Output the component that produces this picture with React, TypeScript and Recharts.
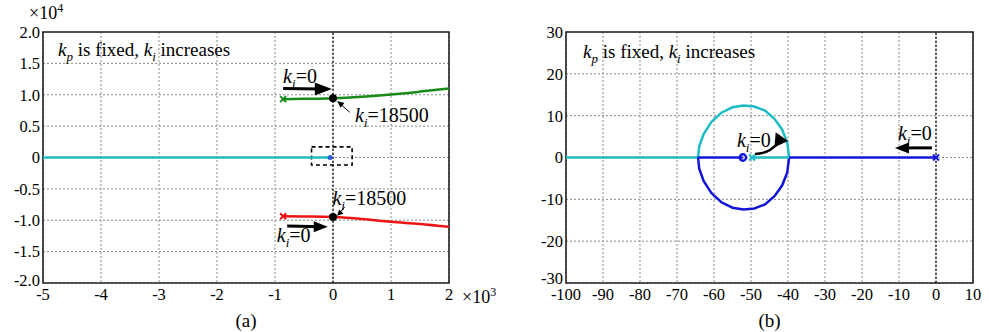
import React from "react";
import {
  ComposedChart,
  Line,
  Scatter,
  XAxis,
  YAxis,
  CartesianGrid,
  ReferenceLine,
  ReferenceArea,
  ReferenceDot,
} from "recharts";

const FONT = "Liberation Serif, DejaVu Serif, serif";
const CYAN = "#1cbcc4";
const BLUE = "#1414d8";
const GREEN = "#188a18";
const RED = "#ee1414";

// ---- panel (a): x in 1e3, y in 1e4
const aXTicks = [-5, -4, -3, -2, -1, 0, 1, 2];
const aYTicks = [-2, -1.5, -1, -0.5, 0, 0.5, 1, 1.5, 2];
const aCyan = [
  { x: -5, y: 0 },
  { x: -0.05, y: 0 },
];
const aGreen = [
  { x: -0.86, y: 0.93 },
  { x: -0.5, y: 0.935 },
  { x: 0, y: 0.945 },
  { x: 0.5, y: 0.97 },
  { x: 1, y: 1.005 },
  { x: 1.5, y: 1.05 },
  { x: 2, y: 1.1 },
];
const aRed = [
  { x: -0.86, y: -0.935 },
  { x: -0.5, y: -0.94 },
  { x: 0, y: -0.95 },
  { x: 0.5, y: -0.98 },
  { x: 1, y: -1.025 },
  { x: 1.5, y: -1.06 },
  { x: 2, y: -1.105 },
];
const aGreenPole = [{ x: -0.86, y: 0.93 }];
const aRedPole = [{ x: -0.86, y: -0.935 }];
const aOrigin = [{ x: -0.05, y: 0 }];
const aCross = [
  { x: 0, y: 0.945 },
  { x: 0, y: -0.95 },
];

// ---- panel (b)
const bXTicks = [-100, -90, -80, -70, -60, -50, -40, -30, -20, -10, 0, 10];
const bYTicks = [-30, -20, -10, 0, 10, 20, 30];
const bCyanReal = [
  { x: -100, y: 0 },
  { x: -64.3, y: 0 },
];
const bCyanSeg = [
  { x: -49.7, y: 0 },
  { x: -39.7, y: 0 },
];
const bCyanArc = [
  { x: -39.7, y: 0 },
  { x: -40.2, y: 3.6 },
  { x: -41.6, y: 6.7 },
  { x: -43.6, y: 9.2 },
  { x: -46.2, y: 11.2 },
  { x: -49.1, y: 12.2 },
  { x: -52, y: 12.4 },
  { x: -55, y: 12.0 },
  { x: -58, y: 10.7 },
  { x: -60.7, y: 8.5 },
  { x: -62.8, y: 5.6 },
  { x: -64, y: 2.7 },
  { x: -64.3, y: 0 },
];
const bBlueReal = [
  { x: 0, y: 0 },
  { x: -39.7, y: 0 },
];
const bBlueArc = [
  { x: -39.7, y: 0 },
  { x: -40.2, y: -3.6 },
  { x: -41.6, y: -6.7 },
  { x: -43.6, y: -9.2 },
  { x: -46.2, y: -11.2 },
  { x: -49.1, y: -12.2 },
  { x: -52, y: -12.4 },
  { x: -55, y: -12.0 },
  { x: -58, y: -10.7 },
  { x: -60.7, y: -8.5 },
  { x: -62.8, y: -5.6 },
  { x: -64, y: -2.7 },
  { x: -64.3, y: 0 },
];
const bBlueSeg = [
  { x: -64.3, y: 0 },
  { x: -52.2, y: 0 },
];
const bBluePole = [{ x: 0, y: 0 }];
const bCyanPole = [{ x: -49.7, y: 0 }];
const bZero = [{ x: -52.2, y: 0 }];
const bCurvedArrow = [
  { x: -48.9, y: 0.85 },
  { x: -46.8, y: 1.1 },
  { x: -44.9, y: 1.8 },
  { x: -43.2, y: 3.0 },
];

const XMark = (color: string) => (p: any) => (
  <g stroke={color} strokeWidth={2}>
    <line x1={p.cx - 3} y1={p.cy - 3} x2={p.cx + 3} y2={p.cy + 3} />
    <line x1={p.cx - 3} y1={p.cy + 3} x2={p.cx + 3} y2={p.cy - 3} />
  </g>
);

const Head = (angle: number, len: number, half: number) => (p: any) => {
  const a = (angle * Math.PI) / 180;
  const bx = p.cx - len * Math.cos(a);
  const by = p.cy - len * Math.sin(a);
  const nx = -Math.sin(a) * half;
  const ny = Math.cos(a) * half;
  return (
    <polygon
      points={`${p.cx},${p.cy} ${bx + nx},${by + ny} ${bx - nx},${by - ny}`}
      fill="#000"
    />
  );
};

const KiLabel = (value: string) => (p: any) => (
  <text x={p.cx} y={p.cy} fontFamily={FONT} fontSize={20} fill="#000">
    <tspan fontStyle="italic">k</tspan>
    <tspan fontStyle="italic" fontSize={13} dy={5}>i</tspan>
    <tspan dy={-5}>={value}</tspan>
  </text>
);

const Title = (p: any) => (
  <text x={p.cx} y={p.cy} fontFamily={FONT} fontSize={19} fill="#000">
    <tspan fontStyle="italic">k</tspan>
    <tspan fontStyle="italic" fontSize={13} dy={5}>p</tspan>
    <tspan dy={-5}> is fixed, </tspan>
    <tspan fontStyle="italic">k</tspan>
    <tspan fontStyle="italic" fontSize={13} dy={5}>i</tspan>
    <tspan dy={-5}> increases</tspan>
  </text>
);

const tickStyle = { fontSize: 16.5, fill: "#000", fontFamily: FONT };

// y tick: the lowest label sits a little above its grid line, as in the source figure
const YTick = (min: number, lift: number, fmt: (v: number) => string) => (p: any) => (
  <text
    x={p.x}
    y={p.y + (p.payload.value === min ? -lift : 0)}
    dy="0.355em"
    textAnchor="end"
    fontFamily={FONT}
    fontSize={16.5}
    fill="#000"
  >
    {fmt(p.payload.value)}
  </text>
);

function PanelA() {
  return (
    <ComposedChart width={500} height={332} margin={{ top: 32, right: 51, bottom: 0, left: 0 }} style={{ fontFamily: FONT }}>
      <CartesianGrid stroke="#8c8c8c" strokeDasharray="2 2" />
      <XAxis
        type="number"
        dataKey="x"
        domain={[-5, 2]}
        ticks={aXTicks}
        interval={0}
        allowDataOverflow
        height={49}
        tickLine={false}
        axisLine={false}
        tickSize={0}
        tickMargin={5}
        tick={tickStyle}
        label={{ value: "(a)", position: "insideBottom", offset: 5, fontSize: 19, fill: "#000", fontFamily: FONT }}
      />
      <YAxis
        type="number"
        dataKey="y"
        domain={[-2, 2]}
        ticks={aYTicks}
        interval={0}
        allowDataOverflow
        width={43}
        tickLine={false}
        axisLine={false}
        tickSize={0}
        tickMargin={3}
        tick={YTick(-2, 3, (v) => (v === 0 ? "0" : v.toFixed(1)))}
      />
      <ReferenceLine x={0} stroke="#000" strokeDasharray="2 2" strokeWidth={1.2} />
      <ReferenceArea x1={-0.37} x2={0.33} y1={-0.12} y2={0.17} fill="none" stroke="#000" strokeWidth={1.6} strokeDasharray="4 3" />
      <Line data={aCyan} dataKey="y" stroke={CYAN} strokeWidth={2.5} dot={false} isAnimationActive={false} />
      <Line data={aGreen} dataKey="y" type="monotone" stroke={GREEN} strokeWidth={2.5} dot={false} isAnimationActive={false} />
      <Line data={aRed} dataKey="y" type="monotone" stroke={RED} strokeWidth={2.5} dot={false} isAnimationActive={false} />
      <Scatter data={aGreenPole} fill={GREEN} shape={XMark(GREEN)} isAnimationActive={false} />
      <Scatter data={aRedPole} fill={RED} shape={XMark(RED)} isAnimationActive={false} />
      <Scatter data={aOrigin} fill={BLUE} shape={(p: any) => <circle cx={p.cx} cy={p.cy} r={2.5} fill="#3060e0" />} isAnimationActive={false} />
      <Scatter data={aCross} fill="#000" shape={(p: any) => <circle cx={p.cx} cy={p.cy} r={4} fill="#000" />} isAnimationActive={false} />
      {/* arrows */}
      <ReferenceLine segment={[{ x: -0.86, y: 1.1 }, { x: -0.2, y: 1.09 }]} stroke="#000" strokeWidth={3} />
      <ReferenceDot x={-0.02} y={1.09} shape={Head(0, 17, 6.5)} />
      <ReferenceLine segment={[{ x: -0.79, y: -1.09 }, { x: -0.2, y: -1.105 }]} stroke="#000" strokeWidth={3} />
      <ReferenceDot x={-0.09} y={-1.105} shape={Head(0, 14, 5.5)} />
      <ReferenceLine segment={[{ x: 0.29, y: 0.72 }, { x: 0.12, y: 0.86 }]} stroke="#000" strokeWidth={1} />
      <ReferenceDot x={0.07} y={0.9} shape={Head(-141, 7, 3)} />
      <ReferenceLine segment={[{ x: 0.2, y: -0.79 }, { x: 0.11, y: -0.89 }]} stroke="#000" strokeWidth={1} />
      <ReferenceDot x={0.07} y={-0.93} shape={Head(135, 6, 3)} />
      {/* text */}
      <ReferenceDot x={-4.74} y={1.62} shape={Title} />
      <ReferenceDot x={-0.86} y={1.19} shape={KiLabel("0")} />
      <ReferenceDot x={0.38} y={0.56} shape={KiLabel("18500")} />
      <ReferenceDot x={-0.01} y={-0.76} shape={KiLabel("18500")} />
      <ReferenceDot x={-0.97} y={-1.34} shape={KiLabel("0")} />
      <ReferenceArea x1={-5} x2={2} y1={-2} y2={2} fill="none" stroke="#222" strokeWidth={1.6} />
    </ComposedChart>
  );
}

function PanelB() {
  return (
    <ComposedChart width={489} height={332} margin={{ top: 32, right: 16, bottom: 0, left: 0 }} style={{ fontFamily: FONT }}>
      <CartesianGrid stroke="#8c8c8c" strokeDasharray="2 2" />
      <XAxis
        type="number"
        dataKey="x"
        domain={[-100, 10]}
        ticks={bXTicks}
        interval={0}
        allowDataOverflow
        height={49}
        tickLine={false}
        axisLine={false}
        tickSize={0}
        tickMargin={5}
        tick={tickStyle}
        label={{ value: "(b)", position: "insideBottom", offset: 5, fontSize: 19, fill: "#000", fontFamily: FONT }}
      />
      <YAxis
        type="number"
        dataKey="y"
        domain={[-30, 30]}
        ticks={bYTicks}
        interval={0}
        allowDataOverflow
        width={66}
        tickLine={false}
        axisLine={false}
        tickSize={0}
        tickMargin={3}
        tick={YTick(-30, 5, (v) => String(v))}
      />
      <ReferenceLine x={0} stroke="#000" strokeDasharray="2 2" strokeWidth={1.2} />
      <Line data={bCyanReal} dataKey="y" stroke={CYAN} strokeWidth={2.5} dot={false} isAnimationActive={false} />
      <Line data={bCyanArc} dataKey="y" type="linear" stroke={CYAN} strokeWidth={2.5} dot={false} isAnimationActive={false} />
      <Line data={bBlueReal} dataKey="y" stroke={BLUE} strokeWidth={2.5} dot={false} isAnimationActive={false} />
      <Line data={bBlueArc} dataKey="y" type="linear" stroke={BLUE} strokeWidth={2.5} dot={false} isAnimationActive={false} />
      <Line data={bBlueSeg} dataKey="y" stroke={BLUE} strokeWidth={2.5} dot={false} isAnimationActive={false} />
      <Line data={bCyanSeg} dataKey="y" stroke={CYAN} strokeWidth={2.5} dot={false} isAnimationActive={false} />
      <Scatter data={bBluePole} fill={BLUE} shape={XMark(BLUE)} isAnimationActive={false} />
      <Scatter data={bCyanPole} fill={CYAN} shape={XMark(CYAN)} isAnimationActive={false} />
      <Scatter data={bZero} fill={BLUE} shape={(p: any) => <circle cx={p.cx} cy={p.cy} r={3.2} fill="none" stroke={BLUE} strokeWidth={2.4} />} isAnimationActive={false} />
      {/* arrows */}
      <Line data={bCurvedArrow} dataKey="y" type="monotone" stroke="#000" strokeWidth={2.5} dot={false} isAnimationActive={false} />
      <ReferenceDot x={-40} y={3.95} shape={Head(5, 13, 7.5)} />
      <ReferenceLine segment={[{ x: -1.1, y: 2.3 }, { x: -7.5, y: 2.3 }]} stroke="#000" strokeWidth={3} />
      <ReferenceDot x={-11.1} y={2.3} shape={Head(180, 14, 5.5)} />
      {/* text */}
      <ReferenceDot x={-95.4} y={23.8} shape={Title} />
      <ReferenceDot x={-53.8} y={2.5} shape={KiLabel("0")} />
      <ReferenceDot x={-10.3} y={4.2} shape={KiLabel("0")} />
      <ReferenceArea x1={-100} x2={10} y1={-30} y2={30} fill="none" stroke="#222" strokeWidth={1.6} />
    </ComposedChart>
  );
}

export default function App() {
  const exp: React.CSSProperties = { position: "absolute", fontFamily: FONT, fontSize: 18, color: "#000", whiteSpace: "nowrap", lineHeight: "18px" };
  const sup: React.CSSProperties = { fontSize: 12, lineHeight: 0, verticalAlign: "7px" };
  return (
    <div style={{ position: "fixed", left: 0, top: 0, width: 989, height: 332, background: "#fff", fontFamily: FONT }}>
      <div style={{ position: "absolute", left: 0, top: 0 }}>
        <PanelA />
      </div>
      <div style={{ position: "absolute", left: 500, top: 0 }}>
        <PanelB />
      </div>
      <span style={{ ...exp, left: 29, top: 4 }}>
        ×10<span style={sup}>4</span>
      </span>
      <span style={{ ...exp, left: 462, top: 288 }}>
        ×10<span style={sup}>3</span>
      </span>
    </div>
  );
}
